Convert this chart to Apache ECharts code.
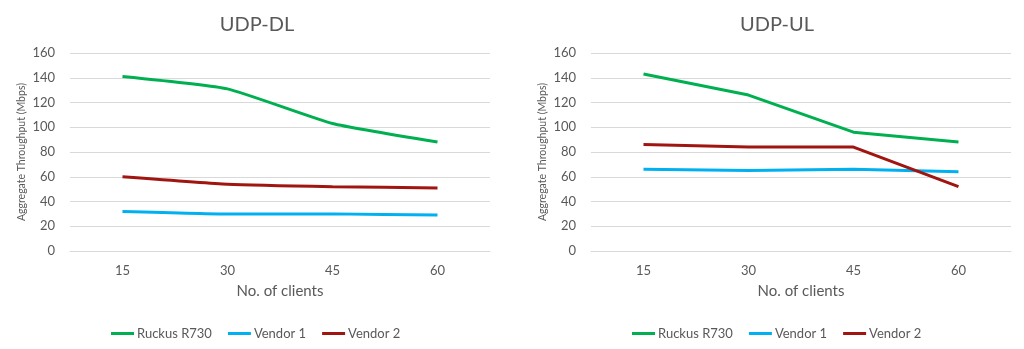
<!DOCTYPE html>
<html>
<head>
<meta charset="utf-8">
<script src="https://cdn.jsdelivr.net/npm/echarts@6/dist/echarts.min.js"></script>
<style>
html,body{margin:0;padding:0;background:#fff;}
#c{width:1024px;height:349px;}
</style>
</head>
<body>
<div id="c"></div>
<script>
const categories = ['15', '30', '45', '60'];
const seriesNames = ['Ruckus R730', 'Vendor 1', 'Vendor 2'];
const dlRuckus = [141, 131, 103, 88];
const dlVendor1 = [32, 30, 30, 29];
const dlVendor2 = [60, 54, 52, 51];
const ulRuckus = [143, 126, 96, 88];
const ulVendor1 = [66, 65, 66, 64];
const ulVendor2 = [86, 84, 84, 52];
const titles = ['UDP-DL', 'UDP-UL'];
const yAxisName = 'Aggregate Throughput (Mbps)';
const xAxisName = 'No. of clients';

const colors = ['#00B050', '#00B0F0', '#A0150F'];
const FONT = 'Lato, "Open Sans", sans-serif';
const TXT = '#595959';

function mkX(idx) {
  return {
    type: 'category', gridIndex: idx, data: categories, boundaryGap: true,
    axisLine: {lineStyle: {color: '#D9D9D9', width: 1}},
    axisTick: {show: false},
    axisLabel: {color: TXT, fontSize: 13, fontFamily: FONT, margin: 13},
    name: xAxisName, nameLocation: 'middle', nameGap: 33,
    nameTextStyle: {color: TXT, fontSize: 15, fontFamily: FONT}
  };
}
function mkY(idx) {
  return {
    type: 'value', gridIndex: idx, min: 0, max: 160, interval: 20,
    axisLine: {show: false}, axisTick: {show: false},
    splitLine: {lineStyle: {color: '#D9D9D9', width: 1}},
    axisLabel: {color: TXT, fontSize: 13, fontFamily: FONT, margin: 15},
    name: yAxisName, nameLocation: 'middle', nameGap: 43,
    nameTextStyle: {color: TXT, fontSize: 10.5, fontFamily: FONT}
  };
}
function mkS(name, data, idx, color, smooth) {
  return {
    name: name, type: 'line', xAxisIndex: idx, yAxisIndex: idx, data: data,
    smooth: smooth, symbol: 'none', lineStyle: {color: color, width: 3},
    itemStyle: {color: color}
  };
}
function mkLegend(left) {
  return {
    left: left, top: 322, data: seriesNames, icon: 'rect', itemWidth: 23, itemHeight: 3,
    itemGap: 16, textStyle: {color: TXT, fontSize: 13, fontFamily: FONT, padding: [0, 0, 0, -2]}
  };
}

const chart = echarts.init(document.getElementById('c'), null, {renderer: 'canvas'});
chart.setOption({
  animation: false,
  backgroundColor: '#fff',
  title: [
    {text: titles[0], left: 252, top: 10, textAlign: 'center', textStyle: {color: TXT, fontSize: 20, fontWeight: 'normal', fontFamily: FONT}},
    {text: titles[1], left: 772, top: 10, textAlign: 'center', textStyle: {color: TXT, fontSize: 20, fontWeight: 'normal', fontFamily: FONT}}
  ],
  legend: [mkLegend(106), mkLegend(627)],
  grid: [
    {left: 70, width: 420, top: 53, height: 198},
    {left: 591, width: 420, top: 53, height: 198}
  ],
  xAxis: [mkX(0), mkX(1)],
  yAxis: [mkY(0), mkY(1)],
  series: [
    mkS(seriesNames[0], dlRuckus, 0, colors[0], 0.15),
    mkS(seriesNames[1], dlVendor1, 0, colors[1], 0.15),
    mkS(seriesNames[2], dlVendor2, 0, colors[2], 0.15),
    mkS(seriesNames[0], ulRuckus, 1, colors[0], false),
    mkS(seriesNames[1], ulVendor1, 1, colors[1], false),
    mkS(seriesNames[2], ulVendor2, 1, colors[2], false)
  ]
});
</script>
</body>
</html>
